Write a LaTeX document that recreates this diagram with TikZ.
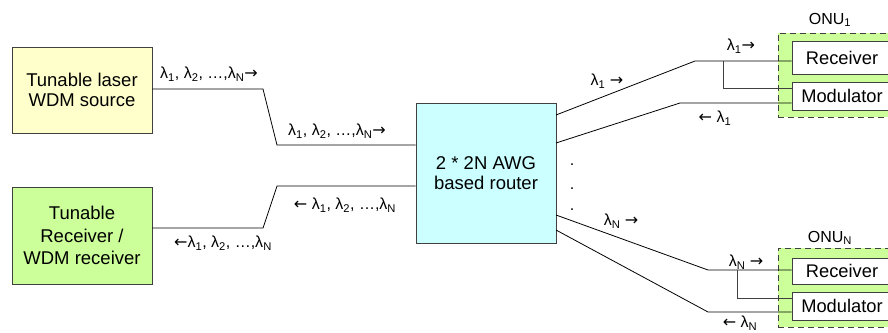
\documentclass[tikz,border=0pt]{standalone}
\usepackage{fontspec}
\setmainfont{Liberation Sans}
\newfontfamily\arrfont{DejaVu Sans}
\definecolor{lyellow}{HTML}{FFFFCC}
\definecolor{lgreen}{HTML}{CCFF99}
\definecolor{lcyan}{HTML}{CCFFFF}
\definecolor{bord}{HTML}{404040}
\newcommand\lam[1]{λ\textsubscript{#1}}
\newcommand\rar{{\arrfont →}}
\newcommand\lar{{\arrfont ←}}
\begin{document}
\begin{tikzpicture}[x=1pt,y=-1pt,
  box/.style={draw=bord,line width=0.8pt,inner sep=0pt,font=\fontsize{18.5}{20.5}\selectfont,align=center},
  onu/.style={draw=bord,dash pattern=on 6pt off 4pt,line width=0.9pt,fill=lgreen},
  inbox/.style={draw=bord,line width=0.8pt,fill=white,inner sep=0pt,font=\fontsize{18.3}{20}\selectfont},
  lbl/.style={font=\fontsize{16}{18}\selectfont,inner sep=0pt},
  wire/.style={line width=0.8pt,black},
  tap/.style={line width=0.8pt,bord}]
\useasboundingbox (0,0) rectangle (888,332);
\begin{scope}
\clip (0,0) rectangle (888,332);
% left boxes
\node[box,fill=lyellow,minimum width=140pt,minimum height=86pt] (laser) at (82,90) {Tunable laser\\WDM source};
\node[box,fill=lgreen,minimum width=140pt,minimum height=97pt,font=\fontsize{18.5}{22.5}\selectfont] (rx) at (82,235.5) {Tunable\\Receiver /\\WDM receiver};
\node[box,fill=lcyan,minimum width=140pt,minimum height=140pt] (router) at (486,173) {2 * 2N AWG\\based router};
% ONU boxes
\node[onu,minimum width=122pt,minimum height=84pt,inner sep=0pt] (onu1) at (839,75) {};
\node[onu,minimum width=122pt,minimum height=79pt,inner sep=0pt] (onuN) at (839,287.5) {};
\node[inbox,minimum width=100pt,minimum height=33pt] (rec1) at (842,57.5) {Receiver};
\node[inbox,minimum width=100pt,minimum height=28pt] (mod1) at (842,96) {Modulator};
\node[inbox,minimum width=100pt,minimum height=26pt] (recN) at (842,271) {Receiver};
\node[inbox,minimum width=100pt,minimum height=28pt] (modN) at (842,306) {Modulator};
% left connectors
\coordinate (a1) at (263,89);
\coordinate (a2) at (277,145);
\draw[wire] (laser.east |- a1) -- (a1) -- (a2) -- (router.west |- a2);
\coordinate (b1) at (263,228);
\coordinate (b2) at (277,186);
\draw[wire] (rx.east |- b1) -- (b1) -- (b2) -- (router.west |- b2);
% right connectors, ONU1
\coordinate (r1) at (556,115);
\coordinate (c1) at (695,61);
\coordinate (t1) at (723,61);
\coordinate (t1b) at (723,88);
\draw[wire] (r1) -- (c1) -- (rec1.west |- c1);
\draw[tap] (t1) -- (t1b) -- (mod1.west |- t1b);
\coordinate (r2) at (556,143);
\coordinate (c2) at (680,103);
\draw[wire] (r2) -- (c2) -- (mod1.west |- c2);
% right connectors, ONUN
\coordinate (r3) at (556,215);
\coordinate (c3) at (708,270);
\coordinate (t3) at (737,270);
\coordinate (t3b) at (737,298);
\draw[wire] (r3) -- (c3) -- (recN.west |- c3);
\draw[tap] (t3) -- (t3b) -- (modN.west |- t3b);
\coordinate (r4) at (556,230);
\coordinate (c4) at (708,312);
\draw[wire] (r4) -- (c4) -- (modN.west |- c4);
\end{scope}
% labels
\node[lbl] (l1) at (209,74) {\lam{1}, \lam{2}, …,\lam{N}\rar};
\node[lbl] (l2) at (337,131) {\lam{1}, \lam{2}, …,\lam{N}\rar};
\node[lbl] (l3) at (345,205) {\lar{} \lam{1}, \lam{2}, …,\lam{N}};
\node[lbl] (l4) at (223,243) {\lar\lam{1}, \lam{2}, …,\lam{N}};
\node[lbl] (l5) at (607,81) {\lam{1} \rar};
\node[lbl] (l6) at (741,46) {\lam{1}\rar};
\node[lbl] (l7) at (715,118) {\lar{} \lam{1}};
\node[lbl] (l8) at (621,221) {\lam{N} \rar};
\node[lbl] (l9) at (746,262) {\lam{N} \rar};
\node[lbl] (l10) at (740,323) {\lar{} \lam{N}};
\node[lbl] (onu1l) at (830,20) {ONU\textsubscript{1}};
\node[lbl] (onuNl) at (830,238) {ONU\textsubscript{N}};
\node[lbl,anchor=base] (d1) at (572,165) {.};
\node[lbl,anchor=base] (d2) at (572,189) {.};
\node[lbl,anchor=base] (d3) at (572,210) {.};
\end{tikzpicture}
\end{document}
